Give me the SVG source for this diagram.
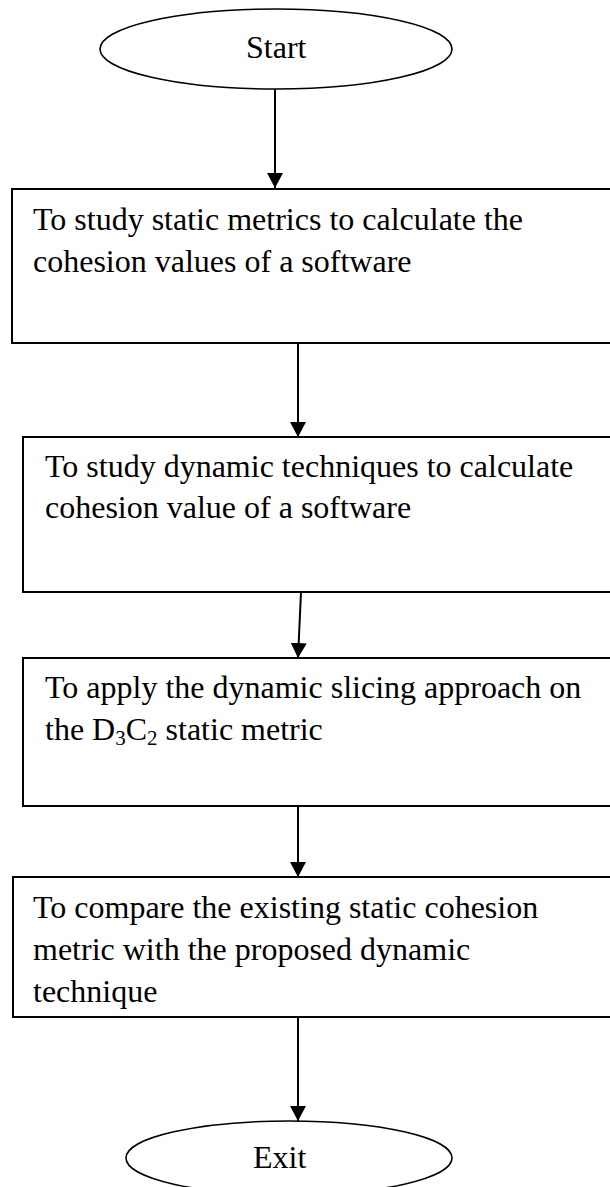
<svg xmlns="http://www.w3.org/2000/svg" width="610" height="1187" viewBox="0 0 610 1187">
<style>
.box{fill:#fff;stroke:#000;stroke-width:2}
.term{fill:#fff;stroke:#000;stroke-width:1.6}
.t{font-family:"Liberation Serif","Times New Roman",serif;font-size:32px;fill:#000}
.sub{font-size:21px}
.c{stroke:#000;stroke-width:2;fill:none}
</style>
<defs>
<marker id="ah" markerUnits="userSpaceOnUse" markerWidth="15" markerHeight="16" refX="15" refY="8" orient="auto" viewBox="0 0 15 16">
<path d="M0,0 L15,8 L0,16 z" fill="#000"/>
</marker>
</defs>
<rect width="610" height="1187" fill="#fff"/>
<g id="connectors">
<line class="c" x1="275" y1="89" x2="275" y2="188" marker-end="url(#ah)"/>
<line class="c" x1="298" y1="343" x2="298" y2="437" marker-end="url(#ah)"/>
<line class="c" x1="301" y1="592" x2="298" y2="658" marker-end="url(#ah)"/>
<line class="c" x1="298" y1="806" x2="298" y2="877" marker-end="url(#ah)"/>
<line class="c" x1="298" y1="1017" x2="298" y2="1121" marker-end="url(#ah)"/>
</g>
<g id="start">
<ellipse class="term" cx="276" cy="49" rx="176" ry="40"/>
<text class="t" x="246" y="58">Start</text>
</g>
<g id="step1">
<rect class="box" x="12" y="189" width="610" height="154"/>
<text class="t" x="33" y="230">To study static metrics to calculate the</text>
<text class="t" x="33" y="272">cohesion values of a software</text>
</g>
<g id="step2">
<rect class="box" x="23" y="437" width="600" height="155"/>
<text class="t" x="45" y="477">To study dynamic techniques to calculate</text>
<text class="t" x="45" y="518">cohesion value of a software</text>
</g>
<g id="step3">
<rect class="box" x="23" y="658" width="600" height="148"/>
<text class="t" x="45" y="698">To apply the dynamic slicing approach on</text>
<text class="t" x="45" y="740">the D<tspan class="sub" dy="5">3</tspan><tspan dy="-5">C</tspan><tspan class="sub" dy="5">2</tspan><tspan dy="-5"> static metric</tspan></text>
</g>
<g id="step4">
<rect class="box" x="13" y="877" width="610" height="140"/>
<text class="t" x="33" y="918">To compare the existing static cohesion</text>
<text class="t" x="33" y="960">metric with the proposed dynamic</text>
<text class="t" x="33" y="1002">technique</text>
</g>
<g id="exit">
<ellipse class="term" cx="289" cy="1158" rx="163" ry="37"/>
<text class="t" x="253" y="1168">Exit</text>
</g>
</svg>
